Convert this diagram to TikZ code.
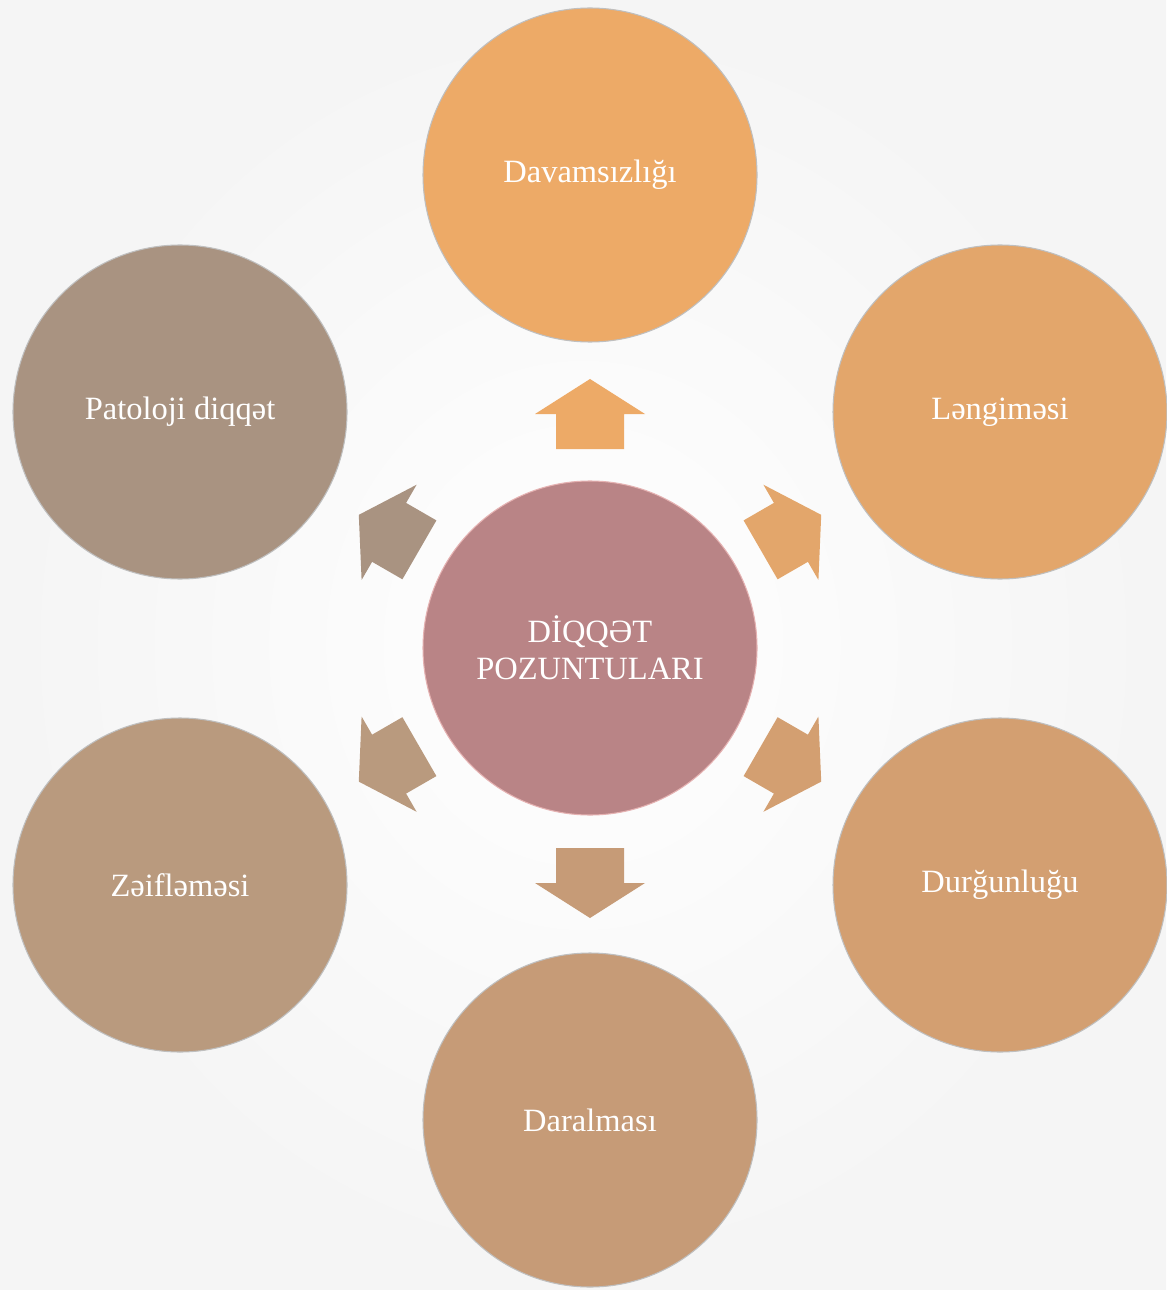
\documentclass[tikz,border=0pt]{standalone}
\usepackage{fontspec}
\setmainfont{Liberation Serif}
\usetikzlibrary{calc}

\definecolor{cmain}{HTML}{B98486}
\definecolor{ctop}{HTML}{EDAA67}
\definecolor{cupr}{HTML}{E3A66B}
\definecolor{cdnr}{HTML}{D39F71}
\definecolor{cbot}{HTML}{C69B77}
\definecolor{cdnl}{HTML}{B99A7E}
\definecolor{cupl}{HTML}{A99381}

\tikzstyle{topic} = [circle,minimum size=334*0.02cm,inner sep=0pt,text=white,align=center,font=\fontsize{18.5}{21}\selectfont,draw=black!25,line width=0.6pt]
\tikzstyle{center} = [topic,fill=cmain,draw=pink!80!gray]
\tikzset{blockarrow/.pic={\fill[pic actions] (-35,-34) -- (0,-34) -- (0,-55) -- (35,0) -- (0,55) -- (0,34) -- (-35,34) -- cycle;}}

\begin{document}
\begin{tikzpicture}[x=0.02cm,y=-0.02cm]
		\useasboundingbox (0,0) rectangle (1166,1290);
		\shade[inner color=white,outer color=black!4] (0,0) rectangle (1166,1290);
		\node[center] (n0) at (590,648) {DİQQƏT\\POZUNTULARI};
		\node[topic,fill=ctop] (n1) at (590,175) {Davamsızlığı};
		\node[topic,fill=cupr] (n2) at (1000,412) {Ləngiməsi};
		\node[topic,fill=cdnr] (n3) at (1000,885) {Durğunluğu};
		\node[topic,fill=cbot] (n4) at (590,1120) {Daralması};
		\node[topic,fill=cdnl] (n5) at (180,885) {Zəifləməsi};
		\node[topic,fill=cupl] (n6) at (180,412) {Patoloji diqqət};
		\pic[fill=ctop,rotate=90] at (590,414) {blockarrow};
		\pic[fill=cupr,rotate=30] at ($(n0)!0.49!(n2)$) {blockarrow};
		\pic[fill=cdnr,rotate=-30] at ($(n0)!0.49!(n3)$) {blockarrow};
		\pic[fill=cbot,rotate=-90] at (590,883) {blockarrow};
		\pic[fill=cdnl,rotate=210] at ($(n0)!0.49!(n5)$) {blockarrow};
		\pic[fill=cupl,rotate=150] at ($(n0)!0.49!(n6)$) {blockarrow};
		\end{tikzpicture}
\end{document}
